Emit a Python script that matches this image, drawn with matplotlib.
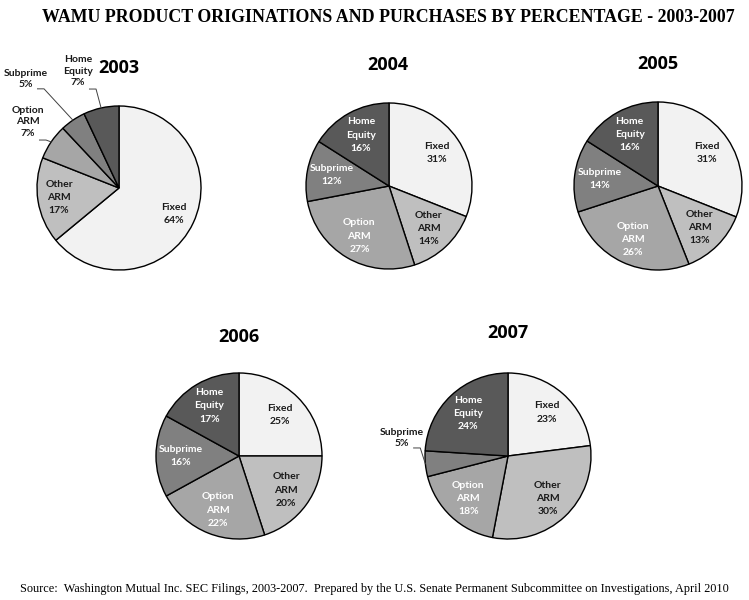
import numpy as np
import matplotlib
matplotlib.use("Agg")
import matplotlib.pyplot as plt

W, H = 749, 600

categories = ["Fixed", "Other\nARM", "Option\nARM", "Subprime", "Home\nEquity"]
years = ["2003", "2004", "2005", "2006", "2007"]
values_2003 = [64, 17, 7, 5, 7]
values_2004 = [31, 14, 27, 12, 16]
values_2005 = [31, 13, 26, 14, 16]
values_2006 = [25, 20, 22, 16, 17]
values_2007 = [23, 30, 18, 5, 24]
all_values = [values_2003, values_2004, values_2005, values_2006, values_2007]

colors = ["#f2f2f2", "#bfbfbf", "#a6a6a6", "#808080", "#595959"]
text_colors = ["#1a1a1a", "#1a1a1a", "white", "white", "white"]

# layout in pixels: (cx, cy, r), title position
layout = {
    "2003": dict(c=(119, 188), r=82, t=(119, 68), ld=0.74),
    "2004": dict(c=(389, 186), r=83, t=(388, 65), ld=0.70),
    "2005": dict(c=(658, 186), r=84, t=(658, 64), ld=0.70),
    "2006": dict(c=(239, 456), r=83, t=(239, 337), ld=0.70),
    "2007": dict(c=(508, 456), r=83, t=(508, 333), ld=0.70),
}
# outside labels: (year, index) -> label pixel position (center of text)
outside = {
    ("2003", 2): (28, 122),
    ("2003", 3): (26, 79),
    ("2003", 4): (78, 71),
    ("2007", 3): (402, 438),
}

LABEL_FONT = dict(family=["Lato", "DejaVu Sans"], weight="bold", fontsize=7.5)
LS = 1.6

fig = plt.figure(figsize=(W / 100, H / 100), dpi=100)
fig.patch.set_facecolor("white")

fig.text(388 / W, 1 - 18 / H, "WAMU PRODUCT ORIGINATIONS AND PURCHASES BY PERCENTAGE - 2003-2007",
         ha="center", va="center", family=["Liberation Serif"], weight="bold", fontsize=12.9)
fig.text(374 / W, 1 - 589 / H,
         "Source:  Washington Mutual Inc. SEC Filings, 2003-2007.  Prepared by the U.S. Senate Permanent Subcommittee on Investigations, April 2010",
         ha="center", va="center", family=["Liberation Serif"], fontsize=8.8)

for year, vals in zip(years, all_values):
    L = layout[year]
    cx, cy = L["c"]
    r = L["r"]
    ax = fig.add_axes([(cx - r) / W, 1 - (cy + r) / H, 2 * r / W, 2 * r / H])
    wedges, _ = ax.pie(vals, colors=colors, startangle=90, counterclock=False,
                       wedgeprops=dict(edgecolor="black", linewidth=1.0))
    ax.set_xlim(-1, 1)
    ax.set_ylim(-1, 1)
    ax.set_aspect("equal")
    ax.axis("off")
    fig.text(L["t"][0] / W, 1 - L["t"][1] / H, year, ha="center", va="center",
             family=["Open Sans", "DejaVu Sans"], weight="bold", fontsize=13)
    for i, (w, v) in enumerate(zip(wedges, vals)):
        mid = np.deg2rad((w.theta1 + w.theta2) / 2)
        label = f"{categories[i]}\n{v}%"
        if (year, i) in outside:
            px, py = outside[(year, i)]
            tx, ty = (px - cx) / r, -(py - cy) / r
            ax.text(tx, ty, label, ha="center", va="center", color="#1a1a1a",
                    linespacing=1.35, **LABEL_FONT)
            # leader line from end of last text line to wedge edge
            nlines = label.count("\n") + 1
            lx = tx + 0.14
            ly = ty - (nlines - 1) * 0.1 - 0.02
            ex, ey = np.cos(mid), np.sin(mid)
            ax.plot([lx, lx + 0.08, ex], [ly, ly, ey], color="#404040", lw=0.7,
                    clip_on=False)
        else:
            d = L["ld"]
            ax.text(d * np.cos(mid), d * np.sin(mid), label, ha="center", va="center",
                    color=text_colors[i], linespacing=LS, **LABEL_FONT)

fig.savefig("out.png", dpi=100, facecolor="white")
